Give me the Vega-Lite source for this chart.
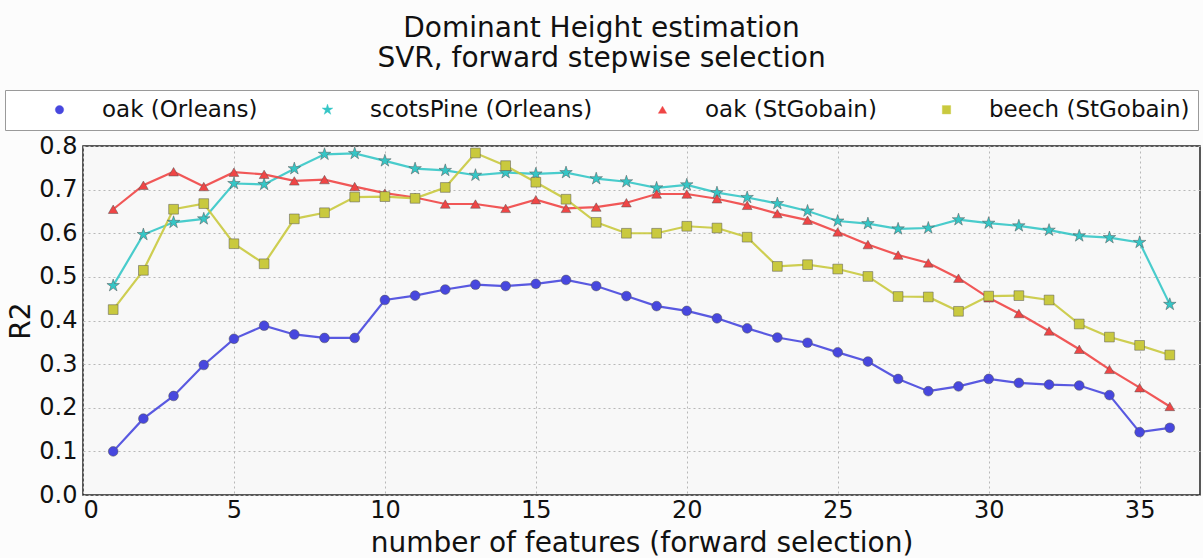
{
  "$schema": "https://vega.github.io/schema/vega-lite/v6.json",
  "width": 1117,
  "height": 349,
  "autosize": {"type": "none"},
  "padding": {"left": 83, "top": 146, "right": 3, "bottom": 63},
  "background": "#fcfcfc",
  "title": {
    "text": ["Dominant Height estimation", "SVR, forward stepwise selection"],
    "anchor": "middle",
    "frame": "group",
    "dx": -40,
    "offset": 17,
    "fontSize": 28,
    "font": "DejaVu Sans",
    "fontWeight": "normal",
    "color": "#111",
    "lineHeight": 30
  },
  "config": {
    "font": "DejaVu Sans",
    "view": {"fill": "#f8f8f8", "stroke": "#222", "strokeWidth": 1.5},
    "axis": {
      "labelFont": "DejaVu Sans",
      "titleFont": "DejaVu Sans",
      "labelFontSize": 24,
      "titleFontSize": 28,
      "titleFontWeight": "normal",
      "labelColor": "#111",
      "titleColor": "#111",
      "domain": false,
      "ticks": false,
      "gridColor": "#b8b8b8",
      "gridDash": [2, 3],
      "gridWidth": 1
    },
    "legend": {
      "labelFont": "DejaVu Sans",
      "labelFontSize": 23,
      "labelColor": "#111",
      "labelLimit": 400
    }
  },
  "data": {
    "values": [
      {"n": 1, "series": "oak (Orleans)", "r2": 0.100},
      {"n": 2, "series": "oak (Orleans)", "r2": 0.175},
      {"n": 3, "series": "oak (Orleans)", "r2": 0.227},
      {"n": 4, "series": "oak (Orleans)", "r2": 0.298},
      {"n": 5, "series": "oak (Orleans)", "r2": 0.358},
      {"n": 6, "series": "oak (Orleans)", "r2": 0.388},
      {"n": 7, "series": "oak (Orleans)", "r2": 0.368},
      {"n": 8, "series": "oak (Orleans)", "r2": 0.360},
      {"n": 9, "series": "oak (Orleans)", "r2": 0.360},
      {"n": 10, "series": "oak (Orleans)", "r2": 0.447},
      {"n": 11, "series": "oak (Orleans)", "r2": 0.457},
      {"n": 12, "series": "oak (Orleans)", "r2": 0.471},
      {"n": 13, "series": "oak (Orleans)", "r2": 0.482},
      {"n": 14, "series": "oak (Orleans)", "r2": 0.479},
      {"n": 15, "series": "oak (Orleans)", "r2": 0.484},
      {"n": 16, "series": "oak (Orleans)", "r2": 0.493},
      {"n": 17, "series": "oak (Orleans)", "r2": 0.479},
      {"n": 18, "series": "oak (Orleans)", "r2": 0.456},
      {"n": 19, "series": "oak (Orleans)", "r2": 0.433},
      {"n": 20, "series": "oak (Orleans)", "r2": 0.422},
      {"n": 21, "series": "oak (Orleans)", "r2": 0.405},
      {"n": 22, "series": "oak (Orleans)", "r2": 0.382},
      {"n": 23, "series": "oak (Orleans)", "r2": 0.361},
      {"n": 24, "series": "oak (Orleans)", "r2": 0.349},
      {"n": 25, "series": "oak (Orleans)", "r2": 0.327},
      {"n": 26, "series": "oak (Orleans)", "r2": 0.306},
      {"n": 27, "series": "oak (Orleans)", "r2": 0.266},
      {"n": 28, "series": "oak (Orleans)", "r2": 0.238},
      {"n": 29, "series": "oak (Orleans)", "r2": 0.249},
      {"n": 30, "series": "oak (Orleans)", "r2": 0.266},
      {"n": 31, "series": "oak (Orleans)", "r2": 0.257},
      {"n": 32, "series": "oak (Orleans)", "r2": 0.253},
      {"n": 33, "series": "oak (Orleans)", "r2": 0.251},
      {"n": 34, "series": "oak (Orleans)", "r2": 0.229},
      {"n": 35, "series": "oak (Orleans)", "r2": 0.144},
      {"n": 36, "series": "oak (Orleans)", "r2": 0.154},

      {"n": 1, "series": "scotsPine (Orleans)", "r2": 0.480},
      {"n": 2, "series": "scotsPine (Orleans)", "r2": 0.597},
      {"n": 3, "series": "scotsPine (Orleans)", "r2": 0.625},
      {"n": 4, "series": "scotsPine (Orleans)", "r2": 0.633},
      {"n": 5, "series": "scotsPine (Orleans)", "r2": 0.714},
      {"n": 6, "series": "scotsPine (Orleans)", "r2": 0.712},
      {"n": 7, "series": "scotsPine (Orleans)", "r2": 0.748},
      {"n": 8, "series": "scotsPine (Orleans)", "r2": 0.781},
      {"n": 9, "series": "scotsPine (Orleans)", "r2": 0.783},
      {"n": 10, "series": "scotsPine (Orleans)", "r2": 0.766},
      {"n": 11, "series": "scotsPine (Orleans)", "r2": 0.748},
      {"n": 12, "series": "scotsPine (Orleans)", "r2": 0.744},
      {"n": 13, "series": "scotsPine (Orleans)", "r2": 0.733},
      {"n": 14, "series": "scotsPine (Orleans)", "r2": 0.739},
      {"n": 15, "series": "scotsPine (Orleans)", "r2": 0.736},
      {"n": 16, "series": "scotsPine (Orleans)", "r2": 0.739},
      {"n": 17, "series": "scotsPine (Orleans)", "r2": 0.725},
      {"n": 18, "series": "scotsPine (Orleans)", "r2": 0.718},
      {"n": 19, "series": "scotsPine (Orleans)", "r2": 0.704},
      {"n": 20, "series": "scotsPine (Orleans)", "r2": 0.711},
      {"n": 21, "series": "scotsPine (Orleans)", "r2": 0.693},
      {"n": 22, "series": "scotsPine (Orleans)", "r2": 0.682},
      {"n": 23, "series": "scotsPine (Orleans)", "r2": 0.668},
      {"n": 24, "series": "scotsPine (Orleans)", "r2": 0.651},
      {"n": 25, "series": "scotsPine (Orleans)", "r2": 0.628},
      {"n": 26, "series": "scotsPine (Orleans)", "r2": 0.622},
      {"n": 27, "series": "scotsPine (Orleans)", "r2": 0.610},
      {"n": 28, "series": "scotsPine (Orleans)", "r2": 0.612},
      {"n": 29, "series": "scotsPine (Orleans)", "r2": 0.631},
      {"n": 30, "series": "scotsPine (Orleans)", "r2": 0.623},
      {"n": 31, "series": "scotsPine (Orleans)", "r2": 0.617},
      {"n": 32, "series": "scotsPine (Orleans)", "r2": 0.607},
      {"n": 33, "series": "scotsPine (Orleans)", "r2": 0.594},
      {"n": 34, "series": "scotsPine (Orleans)", "r2": 0.590},
      {"n": 35, "series": "scotsPine (Orleans)", "r2": 0.579},
      {"n": 36, "series": "scotsPine (Orleans)", "r2": 0.437},

      {"n": 1, "series": "oak (StGobain)", "r2": 0.655},
      {"n": 2, "series": "oak (StGobain)", "r2": 0.710},
      {"n": 3, "series": "oak (StGobain)", "r2": 0.741},
      {"n": 4, "series": "oak (StGobain)", "r2": 0.707},
      {"n": 5, "series": "oak (StGobain)", "r2": 0.740},
      {"n": 6, "series": "oak (StGobain)", "r2": 0.735},
      {"n": 7, "series": "oak (StGobain)", "r2": 0.720},
      {"n": 8, "series": "oak (StGobain)", "r2": 0.723},
      {"n": 9, "series": "oak (StGobain)", "r2": 0.707},
      {"n": 10, "series": "oak (StGobain)", "r2": 0.692},
      {"n": 11, "series": "oak (StGobain)", "r2": 0.682},
      {"n": 12, "series": "oak (StGobain)", "r2": 0.667},
      {"n": 13, "series": "oak (StGobain)", "r2": 0.667},
      {"n": 14, "series": "oak (StGobain)", "r2": 0.657},
      {"n": 15, "series": "oak (StGobain)", "r2": 0.677},
      {"n": 16, "series": "oak (StGobain)", "r2": 0.657},
      {"n": 17, "series": "oak (StGobain)", "r2": 0.660},
      {"n": 18, "series": "oak (StGobain)", "r2": 0.670},
      {"n": 19, "series": "oak (StGobain)", "r2": 0.690},
      {"n": 20, "series": "oak (StGobain)", "r2": 0.690},
      {"n": 21, "series": "oak (StGobain)", "r2": 0.679},
      {"n": 22, "series": "oak (StGobain)", "r2": 0.664},
      {"n": 23, "series": "oak (StGobain)", "r2": 0.645},
      {"n": 24, "series": "oak (StGobain)", "r2": 0.630},
      {"n": 25, "series": "oak (StGobain)", "r2": 0.603},
      {"n": 26, "series": "oak (StGobain)", "r2": 0.574},
      {"n": 27, "series": "oak (StGobain)", "r2": 0.550},
      {"n": 28, "series": "oak (StGobain)", "r2": 0.532},
      {"n": 29, "series": "oak (StGobain)", "r2": 0.497},
      {"n": 30, "series": "oak (StGobain)", "r2": 0.452},
      {"n": 31, "series": "oak (StGobain)", "r2": 0.416},
      {"n": 32, "series": "oak (StGobain)", "r2": 0.376},
      {"n": 33, "series": "oak (StGobain)", "r2": 0.334},
      {"n": 34, "series": "oak (StGobain)", "r2": 0.288},
      {"n": 35, "series": "oak (StGobain)", "r2": 0.246},
      {"n": 36, "series": "oak (StGobain)", "r2": 0.203},

      {"n": 1, "series": "beech (StGobain)", "r2": 0.425},
      {"n": 2, "series": "beech (StGobain)", "r2": 0.515},
      {"n": 3, "series": "beech (StGobain)", "r2": 0.655},
      {"n": 4, "series": "beech (StGobain)", "r2": 0.668},
      {"n": 5, "series": "beech (StGobain)", "r2": 0.576},
      {"n": 6, "series": "beech (StGobain)", "r2": 0.530},
      {"n": 7, "series": "beech (StGobain)", "r2": 0.633},
      {"n": 8, "series": "beech (StGobain)", "r2": 0.647},
      {"n": 9, "series": "beech (StGobain)", "r2": 0.683},
      {"n": 10, "series": "beech (StGobain)", "r2": 0.684},
      {"n": 11, "series": "beech (StGobain)", "r2": 0.680},
      {"n": 12, "series": "beech (StGobain)", "r2": 0.705},
      {"n": 13, "series": "beech (StGobain)", "r2": 0.784},
      {"n": 14, "series": "beech (StGobain)", "r2": 0.755},
      {"n": 15, "series": "beech (StGobain)", "r2": 0.717},
      {"n": 16, "series": "beech (StGobain)", "r2": 0.678},
      {"n": 17, "series": "beech (StGobain)", "r2": 0.625},
      {"n": 18, "series": "beech (StGobain)", "r2": 0.600},
      {"n": 19, "series": "beech (StGobain)", "r2": 0.600},
      {"n": 20, "series": "beech (StGobain)", "r2": 0.616},
      {"n": 21, "series": "beech (StGobain)", "r2": 0.612},
      {"n": 22, "series": "beech (StGobain)", "r2": 0.591},
      {"n": 23, "series": "beech (StGobain)", "r2": 0.524},
      {"n": 24, "series": "beech (StGobain)", "r2": 0.528},
      {"n": 25, "series": "beech (StGobain)", "r2": 0.518},
      {"n": 26, "series": "beech (StGobain)", "r2": 0.501},
      {"n": 27, "series": "beech (StGobain)", "r2": 0.455},
      {"n": 28, "series": "beech (StGobain)", "r2": 0.454},
      {"n": 29, "series": "beech (StGobain)", "r2": 0.421},
      {"n": 30, "series": "beech (StGobain)", "r2": 0.456},
      {"n": 31, "series": "beech (StGobain)", "r2": 0.457},
      {"n": 32, "series": "beech (StGobain)", "r2": 0.447},
      {"n": 33, "series": "beech (StGobain)", "r2": 0.392},
      {"n": 34, "series": "beech (StGobain)", "r2": 0.362},
      {"n": 35, "series": "beech (StGobain)", "r2": 0.343},
      {"n": 36, "series": "beech (StGobain)", "r2": 0.321}
    ]
  },
  "encoding": {
    "x": {
      "field": "n",
      "type": "quantitative",
      "scale": {"domain": [0, 37], "nice": false, "zero": false},
      "axis": {
        "title": "number of features (forward selection)",
        "values": [0, 5, 10, 15, 20, 25, 30, 35],
        "labelPadding": 3,
        "titlePadding": 7
      }
    },
    "y": {
      "field": "r2",
      "type": "quantitative",
      "scale": {"domain": [0, 0.8], "nice": false},
      "axis": {
        "title": "R2",
        "values": [0, 0.1, 0.2, 0.3, 0.4, 0.5, 0.6, 0.7, 0.8],
        "format": ".1f",
        "labelPadding": 6,
        "titlePadding": 3
      }
    },
    "color": {
      "field": "series",
      "type": "nominal",
      "scale": {
        "domain": ["oak (Orleans)", "scotsPine (Orleans)", "oak (StGobain)", "beech (StGobain)"],
        "range": ["#4747de", "#35c6c6", "#f04545", "#c9c93e"]
      },
      "legend": {
        "title": null,
        "orient": "none",
        "legendX": -78,
        "legendY": -56,
        "direction": "horizontal",
        "columns": 4,
        "strokeColor": "#9a9a9a",
        "fillColor": "#ffffff",
        "padding": 8,
        "columnPadding": 23,
        "labelOffset": 31,
        "symbolSize": 70,
        "symbolOpacity": 1,
        "symbolStrokeWidth": 0.4,
        "symbolOffset": 35
      }
    },
    "shape": {
      "field": "series",
      "type": "nominal",
      "scale": {
        "domain": ["oak (Orleans)", "scotsPine (Orleans)", "oak (StGobain)", "beech (StGobain)"],
        "range": [
          "circle",
          "M0,-1.35L0.303,-0.417L1.284,-0.417L0.49,0.159L0.794,1.092L0,0.516L-0.794,1.092L-0.49,0.159L-1.284,-0.417L-0.303,-0.417Z",
          "triangle-up",
          "square"
        ]
      },
      "legend": null
    }
  },
  "layer": [
    {
      "mark": {"type": "line", "strokeWidth": 2.2, "opacity": 0.9}
    },
    {
      "mark": {"type": "point", "filled": true, "opacity": 1, "size": 95, "stroke": "#555", "strokeWidth": 0.5}
    }
  ]
}
